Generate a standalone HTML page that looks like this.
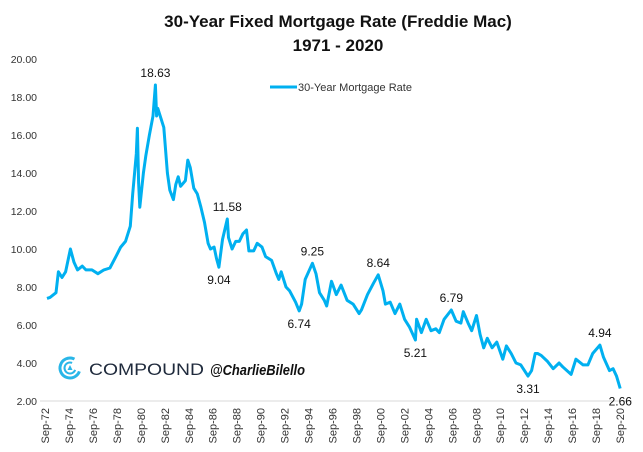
<!DOCTYPE html>
<html><head><meta charset="utf-8"><style>
body{margin:0;background:#fff;font-family:"Liberation Sans",sans-serif;}
svg text{font-family:"Liberation Sans",sans-serif;}
</style></head><body>
<svg width="643" height="447" viewBox="0 0 643 447">
<text x="338" y="27" text-anchor="middle" font-size="17" font-weight="bold" fill="#111">30-Year Fixed Mortgage Rate (Freddie Mac)</text>
<text x="338" y="51" text-anchor="middle" font-size="17" font-weight="bold" fill="#111">1971 - 2020</text>
<g>
<line x1="270" y1="87" x2="297" y2="87" stroke="#00B0F0" stroke-width="3"/>
<text x="298" y="91" font-size="11" fill="#333">30-Year Mortgage Rate</text>
</g>
<g id="yaxis"></g>
<g id="xaxis"></g>
<g id="series"></g>
<g id="anno"></g>
<g>
<circle cx="70" cy="368" r="10" fill="none" stroke="#29B6E8" stroke-width="3" stroke-dasharray="48 15" transform="rotate(20 70 368)"/>
<circle cx="70" cy="368" r="5.5" fill="none" stroke="#29B6E8" stroke-width="2" stroke-dasharray="26 9" transform="rotate(20 70 368)"/>
<path d="M70 365 L72.5 370 L67.5 370 Z" fill="#29B6E8"/>
<text x="89" y="375" font-size="16.5" fill="#1f2a3c" textLength="115" lengthAdjust="spacingAndGlyphs">COMPOUND</text>
<text x="210" y="375" font-size="14.5" font-weight="bold" font-style="italic" fill="#111" textLength="95" lengthAdjust="spacingAndGlyphs">@CharlieBilello</text>
</g>
</svg>
<script>
const yTicks=[2,4,6,8,10,12,14,16,18,20];
const xLabels=["Sep-72","Sep-74","Sep-76","Sep-78","Sep-80","Sep-82","Sep-84","Sep-86","Sep-88","Sep-90","Sep-92","Sep-94","Sep-96","Sep-98","Sep-00","Sep-02","Sep-04","Sep-06","Sep-08","Sep-10","Sep-12","Sep-14","Sep-16","Sep-18","Sep-20"];
const xLabelYears=[1972.75,1974.75,1976.75,1978.75,1980.75,1982.75,1984.75,1986.75,1988.75,1990.75,1992.75,1994.75,1996.75,1998.75,2000.75,2002.75,2004.75,2006.75,2008.75,2010.75,2012.75,2014.75,2016.75,2018.75,2020.75];
const dates=[1972.75,1973.0,1973.5,1973.7,1974.0,1974.3,1974.7,1975.0,1975.3,1975.7,1976.0,1976.5,1977.0,1977.5,1978.0,1978.5,1978.9,1979.3,1979.7,1979.9,1980.2,1980.3,1980.4,1980.5,1980.8,1981.0,1981.3,1981.6,1981.8,1981.9,1982.0,1982.3,1982.5,1982.8,1983.0,1983.3,1983.5,1983.7,1983.9,1984.3,1984.5,1984.7,1985.0,1985.3,1985.6,1985.9,1986.2,1986.4,1986.7,1986.9,1987.1,1987.4,1987.8,1987.9,1988.2,1988.5,1988.8,1989.1,1989.4,1989.6,1990.0,1990.3,1990.7,1991.0,1991.5,1991.9,1992.1,1992.3,1992.7,1993.0,1993.5,1993.8,1994.0,1994.3,1994.9,1995.2,1995.5,1995.9,1996.1,1996.5,1996.9,1997.3,1997.8,1998.3,1998.8,1999.0,1999.5,2000.0,2000.4,2000.8,2001.0,2001.4,2001.8,2002.2,2002.6,2003.0,2003.5,2003.6,2004.0,2004.4,2004.8,2005.2,2005.5,2005.9,2006.5,2006.9,2007.3,2007.5,2007.9,2008.2,2008.6,2008.9,2009.2,2009.5,2009.9,2010.3,2010.8,2011.1,2011.5,2011.9,2012.3,2012.9,2013.2,2013.5,2013.7,2014.0,2014.5,2015.0,2015.5,2015.8,2016.5,2016.9,2017.5,2017.9,2018.3,2018.9,2019.2,2019.7,2020.0,2020.3,2020.6];
const rates=[7.4,7.45,7.7,8.8,8.5,8.8,10.0,9.3,8.9,9.1,8.9,8.9,8.7,8.9,9.0,9.6,10.1,10.4,11.2,12.9,15.0,16.35,13.5,12.2,14.0,14.9,16.0,17.0,18.63,17.0,17.4,16.8,16.4,14.0,13.1,12.6,13.4,13.8,13.3,13.6,14.68,14.3,13.2,12.9,12.2,11.4,10.3,10.0,10.1,9.5,9.04,10.5,11.58,10.6,10.0,10.4,10.4,10.8,11.0,9.9,9.9,10.3,10.1,9.6,9.4,8.7,8.4,8.8,8.0,7.8,7.2,6.74,7.1,8.4,9.25,8.7,7.7,7.3,7.0,8.3,7.6,8.1,7.3,7.1,6.6,6.8,7.6,8.2,8.64,7.8,7.1,7.2,6.6,7.1,6.3,5.9,5.21,6.3,5.6,6.3,5.7,5.8,5.6,6.3,6.79,6.2,6.1,6.7,6.1,5.7,6.5,5.5,4.8,5.3,4.8,5.1,4.2,4.9,4.5,4.0,3.9,3.31,3.6,4.5,4.5,4.4,4.1,3.7,4.0,3.8,3.4,4.2,3.9,3.9,4.5,4.94,4.3,3.6,3.7,3.3,2.66];
const annoLabels=["18.63","11.58","9.04","9.25","6.74","8.64","5.21","6.79","3.31","4.94","2.66"];
const annoDates=[1981.8,1987.8,1987.1,1994.9,1993.8,2000.4,2003.5,2006.5,2012.9,2018.9,2020.6];
const annoValues=[18.63,11.58,9.04,9.25,6.74,8.64,5.21,6.79,3.31,4.94,2.66];
const annoAbove=[1,1,0,1,0,1,0,1,0,1,0];

const NS="http://www.w3.org/2000/svg";
function xs(t){return 47+(t-1972.75)*11.98;}
function ys(v){return 401-(v-2)*19;}
function mk(tag,attrs,parent){const e=document.createElementNS(NS,tag);for(const k in attrs)e.setAttribute(k,attrs[k]);parent.appendChild(e);return e;}
const ya=document.getElementById('yaxis'),xa=document.getElementById('xaxis'),se=document.getElementById('series'),an=document.getElementById('anno');
const base=mk('line',{x1:40,x2:632,y1:ys(2),y2:ys(2),stroke:'#d9d9d9','stroke-width':1},ya);


yTicks.forEach(v=>{const t=mk('text',{x:37,y:ys(v)+4,'text-anchor':'end','font-size':10.5,fill:'#333'},ya);t.textContent=v.toFixed(2);

});
xLabels.forEach((l,i)=>{const x=xs(xLabelYears[i])-2;const t=mk('text',{x:0,y:0,'text-anchor':'end','font-size':11,fill:'#333',transform:`translate(${x+4},${408}) rotate(-90)`},xa);t.textContent=l;

});
const d=dates.map((t,i)=>(i?'L':'M')+xs(t).toFixed(1)+' '+ys(rates[i]).toFixed(1)).join(' ');
const p=mk('path',{d:d,fill:'none',stroke:'#00B0F0','stroke-width':3,'stroke-linejoin':'round'},se);


annoLabels.forEach((l,i)=>{const x=xs(annoDates[i]),y=ys(annoValues[i]);const t=mk('text',{x:x,y:annoAbove[i]?y-8:y+17,'text-anchor':'middle','font-size':12,fill:'#111'},an);t.textContent=l;

});
</script>
</body></html>
